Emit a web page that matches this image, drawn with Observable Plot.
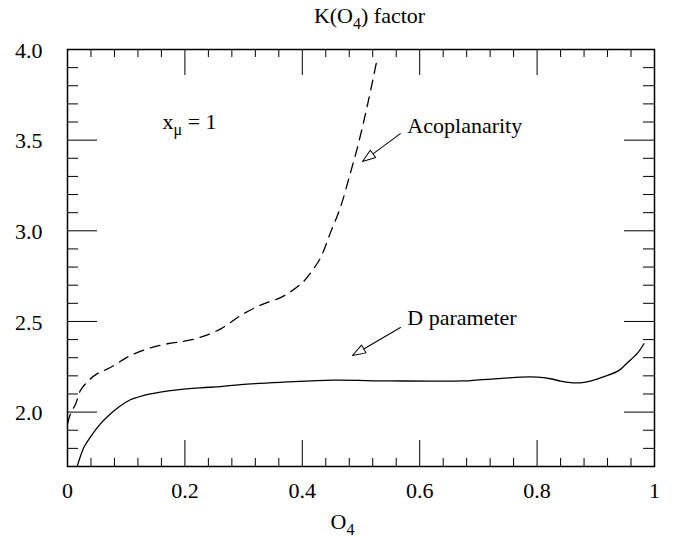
<!DOCTYPE html>
<html><head><meta charset="utf-8">
<script src="https://cdn.jsdelivr.net/npm/d3@7"></script>
<script src="https://cdn.jsdelivr.net/npm/@observablehq/plot@0.6"></script>
<style>body{margin:0;background:#fff}</style>
</head><body><div id="chart"></div>
<script>
// D parameter (solid)
const dParamX = [0.0165,0.028,0.039,0.056,0.073,0.087,0.107,0.130,0.158,0.187,0.227,0.261,0.295,0.368,0.453,0.55,0.675,0.70,0.74,0.772,0.800,0.823,0.840,0.857,0.877,0.894,0.914,0.939,0.953,0.971,0.982];
const dParamY = [1.70,1.806,1.862,1.935,1.99,2.027,2.068,2.092,2.110,2.123,2.134,2.141,2.152,2.165,2.176,2.172,2.172,2.178,2.186,2.193,2.193,2.184,2.171,2.163,2.163,2.174,2.196,2.229,2.270,2.325,2.377];
// Acoplanarity (dashed)
const acopX = [0.0,0.005,0.014,0.022,0.036,0.05,0.062,0.079,0.102,0.136,0.170,0.199,0.227,0.261,0.295,0.329,0.368,0.402,0.419,0.431,0.448,0.465,0.482,0.494,0.508,0.520,0.528];
const acopY = [1.935,1.99,2.046,2.119,2.174,2.211,2.229,2.257,2.303,2.349,2.377,2.391,2.413,2.459,2.533,2.59,2.64,2.72,2.79,2.85,2.99,3.13,3.32,3.46,3.65,3.83,3.956];

const xMajor = [0,0.2,0.4,0.6,0.8,1];
const xMajorLabels = ["0","0.2","0.4","0.6","0.8","1"];
const xMinor = [0.04,0.08,0.12,0.16,0.24,0.28,0.32,0.36,0.44,0.48,0.52,0.56,0.64,0.68,0.72,0.76,0.84,0.88,0.92,0.96];
const yMajor = [2.0,2.5,3.0,3.5,4.0];
const yMajorLabels = ["2.0","2.5","3.0","3.5","4.0"];
const yMinor = [1.8,1.9,2.1,2.2,2.3,2.4,2.6,2.7,2.8,2.9,3.1,3.2,3.3,3.4,3.6,3.7,3.8,3.9];

const titleText = "K(O_4) factor";
const xLabelText = "O_4";
const notes = [
  {text: "x_μ = 1", x: 0.162, y: 3.559},
  {text: "Acoplanarity", x: 0.579, y: 3.542},
  {text: "D parameter", x: 0.579, y: 2.478}
];
const acopArrowTip = [{x: 0.5026, y: 3.382}];
const dArrowTip = [{x: 0.4855, y: 2.312}];

const W = 681, H = 537;
const M = {top: 49, right: 27, bottom: 71, left: 67};
const IW = W - M.left - M.right, IH = H - M.top - M.bottom;
const FONT = "Liberation Serif";
const FS = 22;

const dData = dParamX.map((x, i) => ({x, y: dParamY[i]}));
const aData = acopX.map((x, i) => ({x, y: acopY[i]}));

const openArrow = {
  draw(ctx, l) {
    const h = 13, w = 4.5;
    ctx.moveTo(0, 0); ctx.lineTo(-w, -h); ctx.lineTo(w, -h); ctx.closePath();
    ctx.moveTo(0, -h); ctx.lineTo(0, -l);
  }
};

const chart = Plot.plot({
  width: W, height: H,
  marginTop: M.top, marginRight: M.right, marginBottom: M.bottom, marginLeft: M.left,
  style: {fontFamily: FONT, fontSize: FS + "px", background: "white", color: "black"},
  x: {domain: [0, 1]},
  y: {domain: [1.7, 4.0]},
  marks: [
    Plot.axisX(xMajor, {anchor: "bottom", tickSize: 0, tickPadding: 16, label: null, fontSize: FS,
      tickFormat: d => xMajorLabels[xMajor.indexOf(d)]}),
    Plot.axisY(yMajor, {anchor: "left", tickSize: 0, tickPadding: 25, label: null, fontSize: FS, dy: 1,
      tickFormat: d => yMajorLabels[yMajor.indexOf(d)]}),
    // ticks bottom / top
    Plot.tickX(xMajor, {x: d => d, insetTop: IH - 26, stroke: "black", strokeWidth: 1}),
    Plot.tickX(xMajor, {x: d => d, insetBottom: IH - 26, stroke: "black", strokeWidth: 1}),
    Plot.tickX(xMinor, {x: d => d, insetTop: IH - 8, stroke: "black", strokeWidth: 1}),
    Plot.tickX(xMinor, {x: d => d, insetBottom: IH - 8, stroke: "black", strokeWidth: 1}),
    // ticks left / right
    Plot.tickY(yMajor, {y: d => d, insetRight: IW - 30, stroke: "black", strokeWidth: 1}),
    Plot.tickY(yMajor, {y: d => d, insetLeft: IW - 30, stroke: "black", strokeWidth: 1}),
    Plot.tickY(yMinor, {y: d => d, insetRight: IW - 11, stroke: "black", strokeWidth: 1}),
    Plot.tickY(yMinor, {y: d => d, insetLeft: IW - 11, stroke: "black", strokeWidth: 1}),
    Plot.line(dData, {x: "x", y: "y", stroke: "black", strokeWidth: 1.3, curve: "catmull-rom", clip: true}),
    Plot.line(aData, {x: "x", y: "y", stroke: "black", strokeWidth: 1.3, curve: "catmull-rom", strokeDasharray: "10,7", clip: true}),
    Plot.vector(acopArrowTip, {x: "x", y: "y", length: 47, rotate: 53.6, anchor: "start", shape: openArrow, stroke: "black", fill: "white", strokeWidth: 1}),
    Plot.vector(dArrowTip, {x: "x", y: "y", length: 55.6, rotate: 59.7, anchor: "start", shape: openArrow, stroke: "black", fill: "white", strokeWidth: 1}),
    Plot.text(notes, {x: "x", y: "y", text: "text", textAnchor: "start", lineAnchor: "bottom", fontSize: FS}),
    Plot.text([titleText], {text: d => d, frameAnchor: "top", dy: -27, dx: 8.5, lineAnchor: "bottom", fontSize: FS}),
    Plot.text([xLabelText], {text: d => d, frameAnchor: "bottom", dy: 62, dx: -18.5, lineAnchor: "bottom", fontSize: FS}),
    Plot.frame({stroke: "black", strokeWidth: 1.5})
  ]
});

// render "_c" as a subscript character
chart.querySelectorAll("text").forEach(t => {
  const s = t.textContent;
  if (!s.includes("_")) return;
  const parts = s.split(/_(.)/);
  while (t.firstChild) t.removeChild(t.firstChild);
  let shifted = false;
  parts.forEach((p, i) => {
    if (!p) return;
    const ts = document.createElementNS("http://www.w3.org/2000/svg", "tspan");
    ts.textContent = p;
    if (i % 2) { ts.setAttribute("font-size", "16"); ts.setAttribute("dy", "6"); shifted = true; }
    else if (shifted) { ts.setAttribute("dy", "-6"); shifted = false; }
    t.appendChild(ts);
  });
});

document.getElementById("chart").appendChild(chart);
</script>
</body></html>
